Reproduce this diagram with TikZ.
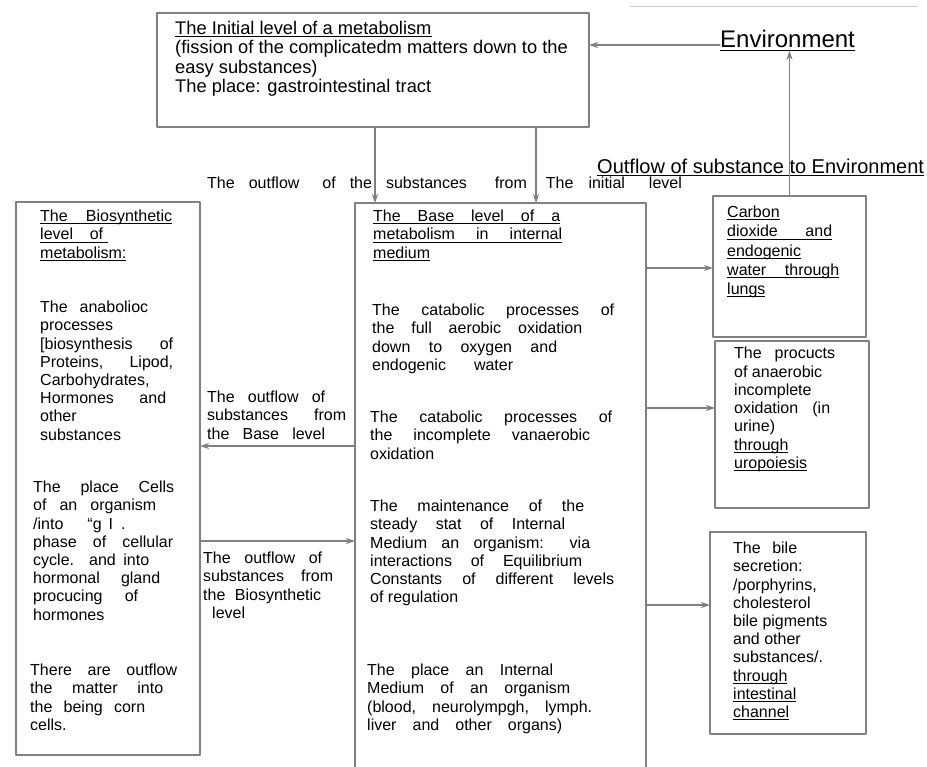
\documentclass[tikz,border=0pt]{standalone}
\usepackage{fontspec}
\setmainfont{Liberation Sans}
\usetikzlibrary{arrows.meta}
\newcommand{\js}[2]{\makebox[#1pt][s]{#2}}
\newcommand{\undl}[1]{\setbox0=\hbox{#1}\rlap{\rule[-2.5pt]{\wd0}{0.9pt}}\box0}
\begin{document}
\begin{tikzpicture}[x=1pt,y=-1pt, line join=round, line cap=round, >={Stealth[length=9pt,width=6pt]},
	box/.style={draw=black!50, line width=1.6pt, inner sep=0pt, outer sep=0pt},
	txt/.style={anchor=north west, inner sep=0pt, align=left, font=\fontsize{16}{18.2}\selectfont},
	link/.style={->, draw=black!50, line width=1.3pt}]
	\fill[white] (0,0) rectangle (927,767);
	\useasboundingbox (0,0) rectangle (927,767);
	\clip (0,0) rectangle (927,767);
	\draw[black!20, line width=1pt] (630,7)--(917,7);
	% boxes
	\path
	(373,70) node[box, minimum width=432, minimum height=114] (init) {}
	(108,478.5) node[box, minimum width=184, minimum height=553] (bio) {}
	(500.5,496.5) node[box, minimum width=291, minimum height=587] (base) {}
	(789.5,266.5) node[box, minimum width=153, minimum height=141] (lungs) {}
	(792,424.5) node[box, minimum width=154, minimum height=167] (urine) {}
	(788,633) node[box, minimum width=156, minimum height=202] (bile) {};
	\node[anchor=base west, inner sep=0pt, font=\fontsize{24}{28}\selectfont] (env) at (720,48) {\undl{Environment}};
	\node[anchor=base west, inner sep=0pt, font=\fontsize{20}{24}\selectfont] (outenv) at (597,173.5) {\undl{Outflow of substance to Environment}};
	% connectors
	\draw[link] (env.west |- 0,45)--(init.east |- 0,45);
	\draw[link] (lungs.north)--(lungs.north |- env.south);
	\draw[link] (init.south -| 375,0)--(base.north -| 375,0);
	\draw[link] (init.south -| 536,0)--(base.north -| 536,0);
	\draw[link] (base.west |- 0,446)--(bio.east |- 0,446);
	\draw[link] (bio.east |- 0,541)--(base.west |- 0,541);
	\draw[link] (base.east |- 0,268)--(lungs.west |- 0,268);
	\draw[link] (base.east |- 0,408)--(urine.west |- 0,408);
	\draw[link] (base.east |- 0,605)--(bile.west |- 0,605);
	% texts
	\node[txt, font=\fontsize{18.3}{19.5}\selectfont] (inittxt) at (175,21) {\undl{The Initial level of a metabolism}\\ (fission of the complicatedm matters down to the\\ easy substances)\\ The place: gastrointestinal tract};
	\node[anchor=base west, inner sep=0pt, font=\fontsize{16}{18.2}\selectfont] (initlbl) at (207,189) {The\hspace{14pt}outflow\hspace{23pt}of\hspace{14pt}the\hspace{14pt}substances\hspace{28pt}from\hspace{19pt}The\hspace{15pt}initial\hspace{24pt}level};
	\node[txt] (biotitle) at (40,210) {\undl{\js{132}{The Biosynthetic}}\\ \undl{\js{63}{level of}\hspace{5pt}}\\ \undl{metabolism:}};
	\node[txt] (bioproc) at (40,301) {\js{108}{The anabolioc}\\ processes\\ \js{133}{[biosynthesis of}\\ \js{133}{Proteins, Lipod,}\\ Carbohydrates,\\ \js{126}{Hormones and}\\ other\\ substances};
	\node[txt] (bioplace) at (33,481) {\js{141}{The place Cells}\\ \js{123}{of an organism}\\ /into\hspace{24pt}“g\hspace{7pt}I\hspace{8pt}.\\ \js{140}{phase of cellular}\\ \js{116}{cycle. and into}\\ \js{127}{hormonal gland}\\ \js{105}{procucing of}\\ hormones};
	\node[txt] (biocells) at (30,664) {\js{147}{There are outflow}\\ \js{133}{the matter into}\\ \js{115}{the being corn}\\ cells.};
	\node[txt] (baselbl) at (207,391) {\js{118}{The outflow of}\\ \js{139}{substances from}\\ \js{118}{the Base level}};
	\node[txt] (biolbl) at (203,552) {\js{119}{The outflow of}\\ \js{130}{substances from}\\ \js{118}{the Biosynthetic}\\ \hspace*{9pt}level};
	\node[txt] (basetitle) at (373,210) {\undl{\js{187}{The Base level of a}}\\ \undl{\js{189}{metabolism in internal}}\\ \undl{medium}};
	\node[txt] (basefull) at (372,304) {\js{242}{The catabolic processes of}\\ \js{210}{the full aerobic oxidation}\\ \js{185}{down to oxygen and}\\ \js{141}{endogenic water}};
	\node[txt] (baseincl) at (370,411) {\js{242}{The catabolic processes of}\\ \js{220}{the incomplete vanaerobic}\\ oxidation};
	\node[txt] (basesteady) at (370,500) {\js{214}{The maintenance of the}\\ \js{195}{steady stat of Internal}\\ \js{220}{Medium an organism: via}\\ \js{212}{interactions of Equilibrium}\\ \js{244}{Constants of different levels}\\ of regulation};
	\node[txt] (baseplace) at (367,664) {\js{186}{The place an Internal}\\ \js{203}{Medium of an organism}\\ \js{225}{(blood, neurolympgh, lymph.}\\ \js{195}{liver and other organs)}};
	\node[txt, font=\fontsize{16}{19.2}\selectfont] (lungstxt) at (727,206) {\undl{Carbon}\\ \undl{\js{105}{dioxide and}}\\ \undl{endogenic}\\ \undl{\js{112}{water through}}\\ \undl{lungs}};
	\node[txt, font=\fontsize{16}{18.3}\selectfont] (urinetxt) at (734,347) {\js{101}{The procucts}\\ of anaerobic\\ incomplete\\ \js{96}{oxidation (in}\\ urine)\\ \undl{through}\\ \undl{uropoiesis}};
	\node[txt] (biletxt) at (733,542) {\js{64}{The bile}\\ secretion:\\ /porphyrins,\\ cholesterol\\ bile pigments\\ and other\\ substances/.\\ \undl{through}\\ \undl{intestinal}\\ \undl{channel}};
\end{tikzpicture}
\end{document}
